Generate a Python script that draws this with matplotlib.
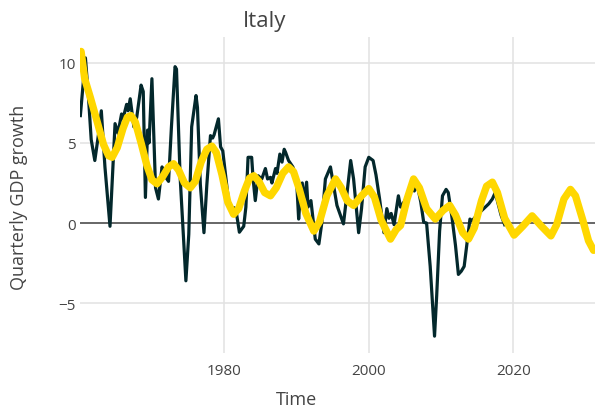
import matplotlib
matplotlib.use('Agg')
import matplotlib.pyplot as plt

# Quarterly GDP growth
gdp_years = [
    1960.1, 1960.8, 1961.2, 1961.6, 1962.1, 1962.6, 1963.0, 1963.5, 1964.2, 1964.9,
    1965.3, 1965.8, 1966.0, 1966.5, 1966.7, 1967.0, 1967.5, 1967.9, 1968.5, 1968.8,
    1969.1, 1969.4, 1969.6, 1970.0, 1970.5, 1970.9, 1971.4, 1971.7, 1972.0, 1972.3,
    1972.7, 1973.2, 1973.4, 1973.9, 1974.7, 1975.1, 1975.5, 1976.1, 1976.3, 1976.7,
    1977.2, 1977.6, 1978.1, 1978.4, 1978.6, 1979.2, 1979.5, 1979.8, 1980.6, 1981.1,
    1981.4, 1981.7, 1982.1, 1982.7, 1983.0, 1983.3, 1983.8, 1984.0, 1984.3, 1984.7,
    1985.2, 1985.7, 1986.0, 1986.4, 1986.6, 1987.1, 1987.3, 1987.7, 1988.0, 1988.3,
    1988.5, 1988.9, 1989.5, 1990.0, 1990.3, 1990.5, 1990.8, 1991.0, 1991.4, 1991.6,
    1992.0, 1992.6, 1993.1, 1993.5, 1994.0, 1994.7, 1995.0, 1995.6, 1996.5, 1996.9,
    1997.5, 1997.9, 1998.6, 1999.0, 1999.5, 2000.0, 2000.6, 2001.0, 2001.5, 2002.1,
    2002.5, 2002.8, 2003.1, 2003.5, 2004.1, 2004.4, 2005.0, 2005.5, 2006.0, 2006.3,
    2006.7, 2007.2, 2007.6, 2008.0, 2008.5, 2009.1, 2009.4, 2009.8, 2010.2, 2010.7,
    2011.0, 2011.5, 2012.0, 2012.4, 2012.8, 2013.2, 2013.6, 2014.0, 2014.3, 2014.6,
    2015.2, 2015.9, 2016.6, 2017.1, 2017.5, 2017.9, 2018.3, 2018.8,
]
gdp_growth = [
    6.7, 10.3, 8.0, 5.2, 3.9, 5.5, 7.0, 3.5, -0.2, 6.2,
    5.6, 6.8, 6.5, 7.4, 7.0, 7.75, 6.0, 6.6, 8.6, 8.2,
    1.6, 5.8, 5.0, 9.0, 2.2, 1.5, 3.5, 3.2, 2.8, 2.6,
    6.0, 9.75, 9.6, 2.9, -3.6, -0.7, 6.0, 7.95, 7.2, 2.4,
    -0.6, 2.4, 5.45, 5.3, 5.5, 6.5, 4.75, 4.5, 1.4, 0.9,
    0.95, 0.6, -0.57, -0.2, 1.0, 4.1, 4.1, 2.75, 1.4, 2.95,
    2.75, 3.4, 2.75, 2.85, 2.5, 3.4, 3.1, 4.3, 3.8, 4.6,
    4.4, 3.9, 3.5, 2.8, 0.25, 1.5, 2.5, 1.3, 2.55, 1.0,
    1.4, -1.0, -1.3, 0.0, 2.75, 3.5, 2.7, 1.1, -0.05, 1.5,
    3.9, 2.75, -0.6, 0.9, 3.5, 4.1, 3.9, 3.0, 1.5, -0.6,
    0.9, 0.3, 0.6, -0.1, 1.7, 1.0, 1.4, 1.9, 2.55, 2.0,
    2.4, 1.3, 0.05, 0.0, -2.7, -7.05, -4.5, -0.5, 1.7, 2.1,
    1.9, 0.4, -1.4, -3.2, -3.0, -2.7, -1.2, 0.25, 0.15, 0.3,
    0.6, 0.9, 1.2, 1.5, 1.9, 1.2, 0.5, -0.1,
]

# Smooth cyclical component, extends past the data
cycle_years = [
    1960.2, 1960.7, 1961.5, 1962.5, 1963.3, 1964.0, 1964.5, 1965.2, 1966.0, 1966.6,
    1967.1, 1967.7, 1968.5, 1969.3, 1970.0, 1970.7, 1971.5, 1972.3, 1973.0, 1973.7,
    1974.5, 1975.3, 1976.0, 1976.8, 1977.6, 1978.3, 1978.9, 1979.7, 1980.5, 1981.3,
    1982.0, 1982.8, 1983.5, 1984.1, 1984.8, 1985.6, 1986.4, 1987.2, 1988.1, 1988.9,
    1989.6, 1990.4, 1991.3, 1992.4, 1993.2, 1994.2, 1995.4, 1996.2, 1997.0, 1997.9,
    1999.0, 2000.0, 2000.8, 2001.7, 2003.0, 2003.8, 2004.4, 2005.3, 2006.2, 2007.0,
    2008.0, 2009.2, 2010.3, 2011.2, 2012.0, 2013.0, 2013.8, 2014.6, 2015.6, 2016.3,
    2017.1, 2017.8, 2018.8, 2020.1, 2021.3, 2022.6, 2023.9, 2025.2, 2026.0, 2027.0,
    2027.9, 2028.6, 2029.6, 2030.4, 2031.1,
]
cycle_values = [
    10.7, 9.0, 7.8, 6.2, 4.9, 4.2, 4.1, 4.7, 5.9, 6.6,
    6.7, 6.3, 5.0, 3.6, 2.7, 2.45, 2.9, 3.5, 3.7, 3.3,
    2.5, 2.2, 2.6, 3.8, 4.6, 4.8, 4.4, 3.0, 1.3, 0.55,
    0.9, 2.0, 2.8, 2.95, 2.6, 1.9, 1.7, 2.2, 3.1, 3.5,
    3.2, 2.1, 0.6, -0.5, 0.1, 1.7, 2.75, 2.2, 1.4, 1.1,
    1.7, 2.15, 1.6, 0.2, -1.0, -0.4, -0.15, 1.5, 2.75, 2.2,
    0.9, 0.25, 0.8, 1.1, 0.5, -0.6, -1.0, -0.3, 1.4, 2.3,
    2.55, 1.9, 0.3, -0.75, -0.2, 0.45, -0.2, -0.8, -0.1, 1.5,
    2.1, 1.7, 0.2, -1.1, -1.7,
]

x_ticks = [1980, 2000, 2020]
y_ticks = [-5, 0, 5, 10]

plt.rcParams['font.family'] = ['Open Sans', 'DejaVu Sans']
text_color = '#444444'

fig = plt.figure(figsize=(5.95, 4.14), dpi=100)
ax = fig.add_axes([80 / 595, 1 - 354 / 414, 515 / 595, 316 / 414])

ax.plot(gdp_years, gdp_growth, color='#03282C', lw=2.3, solid_joinstyle='round', zorder=3)
ax.plot(cycle_years, cycle_values, color='#FFD700', lw=5.3, solid_capstyle='round',
        solid_joinstyle='round', zorder=4)
ax.axhline(0, color='#444444', lw=1.1, zorder=2)

ax.set_xlim(1960.05, 2031.3)
ax.set_ylim(-8.1, 11.6)
ax.set_xticks(x_ticks)
ax.set_yticks(y_ticks)
ax.grid(True, color='#e2e2e2', lw=1.1, zorder=1)
ax.set_axisbelow(True)
for s in ax.spines.values():
    s.set_visible(False)
ax.tick_params(length=0, labelsize=11, labelcolor=text_color)
ax.tick_params(axis='x', pad=7)
ax.tick_params(axis='y', pad=3)

fig.text(265 / 595, 1 - 21 / 414, 'Italy', ha='center', va='center',
         fontsize=16, color=text_color)
fig.text(297 / 595, 1 - 400 / 414, 'Time', ha='center', va='center',
         fontsize=13, color=text_color)
fig.text(19 / 595, 1 - 197 / 414, 'Quarterly GDP growth', ha='center', va='center',
         rotation=90, fontsize=13, color=text_color)

fig.savefig('out.png', dpi=100)
